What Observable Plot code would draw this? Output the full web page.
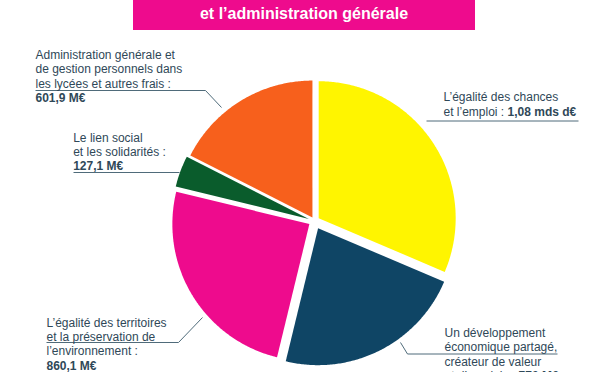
<!DOCTYPE html>
<html><head><meta charset="utf-8">
<script src="https://cdn.jsdelivr.net/npm/d3@7"></script>
<script src="https://cdn.jsdelivr.net/npm/@observablehq/plot@0.6"></script>
<style>
body{margin:0;background:#fff;}
#wrap{position:relative;width:600px;height:372px;overflow:hidden;background:#fff;}
#title{position:absolute;left:133px;top:0;width:342px;height:30px;background:#ee0b8d;color:#fff;
  font:bold 16px "Liberation Sans",Arial,sans-serif;text-align:center;line-height:27px;}
#chart{position:absolute;left:0;top:0;}
</style></head>
<body>
<div id="wrap"><div id="chart"></div><div id="title">et l’administration générale</div></div>
<script>
// ---- data ----
const categories = [
  "L’égalité des chances et l’emploi",
  "Un développement économique partagé, créateur de valeur et d’emplois",
  "L’égalité des territoires et la préservation de l’environnement",
  "Le lien social et les solidarités",
  "Administration générale et de gestion personnels dans les lycées et autres frais"
];
const values = [1080, 770, 860.1, 127.1, 601.9];
const amountLabels = ["1,08 mds d€", "770 M€", "860,1 M€", "127,1 M€", "601,9 M€"];
const labelLines = [
  ["L’égalité des chances", "et l’emploi : "],
  ["Un développement", "économique partagé,", "créateur de valeur", "et d’emplois : "],
  ["L’égalité des territoires", "et la préservation de", "l’environnement :"],
  ["Le lien social", "et les solidarités :"],
  ["Administration générale et", "de gestion personnels dans", "les lycées et autres frais :"]
];
const colors = ["#fff500", "#0f4565", "#ee0b8d", "#0a5c2c", "#f7601c"];

// ---- layout ----
const W = 600, H = 372;
const cx = 314, cy = 220.5, R = 137;
const explode = [5, 8, 6, 6, 4];
const labelPos = [
  {x: 443, y: 100, dy: 15.5, inline: true},
  {x: 444, y: 336, dy: 14.5, inline: true},
  {x: 46, y: 326, dy: 14.4, inline: false},
  {x: 72.7, y: 141, dy: 14.4, inline: false},
  {x: 35, y: 58.5, dy: 14.4, inline: false}
];
const leaders = [
  [[426, 120.5], [578, 120.5]],
  [[400, 342], [407, 353.5], [557, 353.5]],
  [[202, 317], [178, 342], [46, 342]],
  [[179, 172], [73, 172]],
  [[221, 107], [205, 90], [35, 90]]
];
const textColor = "#2f4858", lineColor = "#4f6b7a";
const font = "Liberation Sans, Arial, sans-serif";

// ---- geometry from values ----
const arcs = d3.pie().sort(null).startAngle(0).endAngle(2 * Math.PI)(values);
const sliceMarks = arcs.map((a, i) => {
  const m = (a.startAngle + a.endAngle) / 2;
  const ox = cx + explode[i] * Math.sin(m), oy = cy - explode[i] * Math.cos(m);
  const pts = [[ox, oy]];
  const n = Math.max(4, Math.ceil((a.endAngle - a.startAngle) / 0.01));
  for (let k = 0; k <= n; k++) {
    const t = a.startAngle + (a.endAngle - a.startAngle) * k / n;
    pts.push([ox + R * Math.sin(t), oy - R * Math.cos(t)]);
  }
  pts.push([ox, oy]);
  return Plot.line(pts, {x: d => d[0], y: d => d[1], fill: colors[i], stroke: "none", curve: "linear"});
});

const ctx = document.createElement("canvas").getContext("2d");
ctx.font = "12px " + font;
const textRows = [];
labelLines.forEach((lines, i) => {
  const p = labelPos[i];
  lines.forEach((s, j) => textRows.push({x: p.x, y: p.y + j * p.dy, text: s, bold: false}));
  if (p.inline) {
    const last = lines.length - 1;
    textRows.push({x: p.x + ctx.measureText(lines[last]).width, y: p.y + last * p.dy, text: amountLabels[i], bold: true});
  } else {
    textRows.push({x: p.x, y: p.y + lines.length * p.dy, text: amountLabels[i], bold: true});
  }
});
const leaderRows = leaders.flatMap((pts, i) => pts.map(([x, y]) => ({x, y, id: i})));

const chart = Plot.plot({
  width: W, height: H, margin: 0,
  x: {domain: [0, W], range: [0, W], axis: null},
  y: {domain: [0, H], range: [0, H], axis: null},
  style: {background: "transparent"},
  marks: [
    ...sliceMarks,
    Plot.line(leaderRows, {x: "x", y: "y", z: "id", stroke: lineColor, strokeWidth: 1, strokeLinecap: "butt", strokeLinejoin: "miter"}),
    Plot.text(textRows.filter(d => !d.bold), {x: "x", y: "y", text: "text", textAnchor: "start", lineAnchor: "bottom", fontSize: 12, fontFamily: font, fill: textColor}),
    Plot.text(textRows.filter(d => d.bold), {x: "x", y: "y", text: "text", textAnchor: "start", lineAnchor: "bottom", fontSize: 12, fontWeight: "bold", fontFamily: font, fill: textColor})
  ]
});
document.getElementById("chart").appendChild(chart);
</script>
</body></html>
